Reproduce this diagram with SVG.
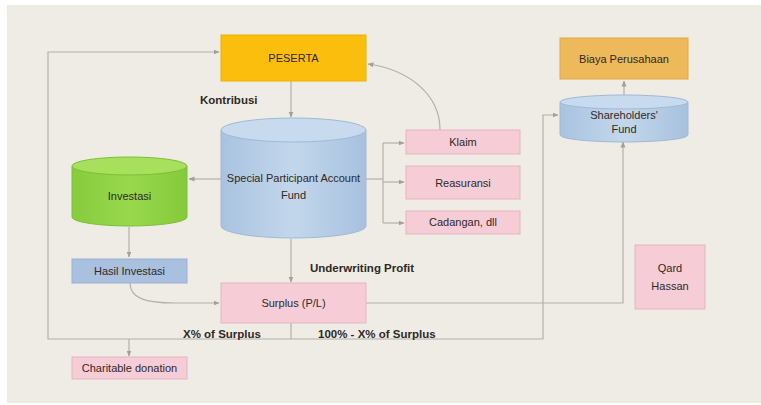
<svg xmlns="http://www.w3.org/2000/svg" width="761" height="405" viewBox="0 0 761 405">
  <defs>
    <marker id="arr" viewBox="0 0 6 6" refX="5.5" refY="3" markerWidth="5" markerHeight="5" orient="auto">
      <path d="M0,0.5 L6,3 L0,5.5 z" fill="#a39f99"/>
    </marker>
    <linearGradient id="blueCyl" x1="0" y1="0" x2="1" y2="0">
      <stop offset="0" stop-color="#a9c3df"/>
      <stop offset="0.5" stop-color="#c3d7ec"/>
      <stop offset="1" stop-color="#a7c1de"/>
    </linearGradient>
    <linearGradient id="greenCyl" x1="0" y1="0" x2="1" y2="0">
      <stop offset="0" stop-color="#86cc3c"/>
      <stop offset="0.5" stop-color="#99d84e"/>
      <stop offset="1" stop-color="#84ca3a"/>
    </linearGradient>
    <style>
      .lbl { font-family: "Liberation Sans", Arial, sans-serif; font-size: 11px; fill: #2e2924; text-anchor: middle; }
      .note { font-family: "Liberation Sans", Arial, sans-serif; font-size: 11.5px; font-weight: bold; fill: #2e2924; }
      .pink { fill: #f6cdd7; stroke: #e3b3c0; stroke-width: 1; }
      .conn { fill: none; stroke: #b3afa9; stroke-width: 1.2; }
    </style>
  </defs>

  <!-- page -->
  <rect x="0" y="0" width="761" height="405" fill="#ffffff"/>
  <rect x="7" y="5" width="754" height="398" fill="#efece5"/>

  <!-- connectors -->
  <g id="connectors">
    <!-- contribution from participants to the fund -->
    <path class="conn" d="M291,81 V117" marker-end="url(#arr)"/>
    <!-- fund to investment -->
    <path class="conn" d="M221,179 H189" marker-end="url(#arr)"/>
    <!-- fund to claims / reinsurance / reserves -->
    <path class="conn" d="M366,179 H383"/>
    <path class="conn" d="M383,143 V223"/>
    <path class="conn" d="M383,143 H404" marker-end="url(#arr)"/>
    <path class="conn" d="M383,182 H404" marker-end="url(#arr)"/>
    <path class="conn" d="M383,223 H404" marker-end="url(#arr)"/>
    <!-- claims paid back to participants -->
    <path class="conn" d="M440,130 C440,95 410,70 368,64" marker-end="url(#arr)"/>
    <!-- investment to investment result -->
    <path class="conn" d="M129,227 V257" marker-end="url(#arr)"/>
    <!-- investment result to surplus -->
    <path class="conn" d="M130,283 C130,298 145,303 175,303 H219" marker-end="url(#arr)"/>
    <!-- underwriting profit -->
    <path class="conn" d="M291,239 V282" marker-end="url(#arr)"/>
    <!-- surplus split -->
    <path class="conn" d="M291,323 V339"/>
    <path class="conn" d="M291,339 H48 V52 H219" marker-end="url(#arr)"/>
    <path class="conn" d="M291,339 H543 V115 H558" marker-end="url(#arr)"/>
    <path class="conn" d="M129,339 V356" marker-end="url(#arr)"/>
    <!-- surplus to shareholders' fund -->
    <path class="conn" d="M366,303 H623 V142" marker-end="url(#arr)"/>
    <!-- shareholders' fund to company expenses -->
    <path class="conn" d="M624,95 V81" marker-end="url(#arr)"/>
  </g>

  <!-- participants -->
  <g id="peserta">
    <rect x="221" y="35" width="145" height="46" fill="#fbbe0c" stroke="#f0b000"/>
    <text class="lbl" x="293.5" y="62">PESERTA</text>
  </g>

  <g id="kontribusi-label">
    <text class="note" x="200" y="104">Kontribusi</text>
  </g>

  <!-- special participant account fund -->
  <g id="spa-fund">
    <path d="M221,130 V226 A72.5,12 0 0 0 366,226 V130" fill="url(#blueCyl)" stroke="#9fb9d6"/>
    <ellipse cx="293.5" cy="130" rx="72.5" ry="12" fill="#c8dbee" stroke="#9fb9d6"/>
    <text class="lbl" x="293.5" y="182">Special Participant Account</text>
    <text class="lbl" x="293.5" y="199">Fund</text>
  </g>

  <!-- investment -->
  <g id="investasi">
    <path d="M72,166 V217 A57.5,9 0 0 0 187,217 V166" fill="url(#greenCyl)" stroke="#7cbf35"/>
    <ellipse cx="129.5" cy="166" rx="57.5" ry="9" fill="#a6e05c" stroke="#7cbf35"/>
    <text class="lbl" x="129.5" y="200">Investasi</text>
  </g>

  <g id="hasil-investasi">
    <rect x="72" y="259" width="115" height="24" fill="#a9c1de" stroke="#98b1cf"/>
    <text class="lbl" x="129.5" y="275">Hasil Investasi</text>
  </g>

  <g id="klaim">
    <rect class="pink" x="406" y="130" width="114" height="24"/>
    <text class="lbl" x="463" y="146">Klaim</text>
  </g>

  <g id="reasuransi">
    <rect class="pink" x="406" y="166" width="114" height="33"/>
    <text class="lbl" x="463" y="187">Reasuransi</text>
  </g>

  <g id="cadangan">
    <rect class="pink" x="406" y="211" width="114" height="23"/>
    <text class="lbl" x="463" y="226">Cadangan, dll</text>
  </g>

  <g id="underwriting-label">
    <text class="note" x="310" y="272">Underwriting Profit</text>
  </g>

  <g id="surplus">
    <rect class="pink" x="221" y="283" width="145" height="40"/>
    <text class="lbl" x="293.5" y="307">Surplus (P/L)</text>
  </g>

  <g id="split-labels">
    <text class="note" x="183" y="338">X% of Surplus</text>
    <text class="note" x="318" y="338">100% - X% of Surplus</text>
  </g>

  <g id="charitable">
    <rect class="pink" x="72" y="357" width="115" height="22"/>
    <text class="lbl" x="129.5" y="372">Charitable donation</text>
  </g>

  <g id="biaya">
    <rect x="560" y="38" width="128" height="41" fill="#eeb95a" stroke="#e2a943"/>
    <text class="lbl" x="624" y="63">Biaya Perusahaan</text>
  </g>

  <g id="shareholders-fund">
    <path d="M560,102 V135 A64,7 0 0 0 688,135 V102" fill="url(#blueCyl)" stroke="#9fb9d6"/>
    <ellipse cx="624" cy="102" rx="64" ry="7" fill="#c8dbee" stroke="#9fb9d6"/>
    <text class="lbl" x="624" y="119">Shareholders'</text>
    <text class="lbl" x="624" y="133">Fund</text>
  </g>

  <g id="qard-hassan">
    <rect class="pink" x="635" y="245" width="70" height="64"/>
    <text class="lbl" x="670" y="272">Qard</text>
    <text class="lbl" x="670" y="290">Hassan</text>
  </g>
</svg>
